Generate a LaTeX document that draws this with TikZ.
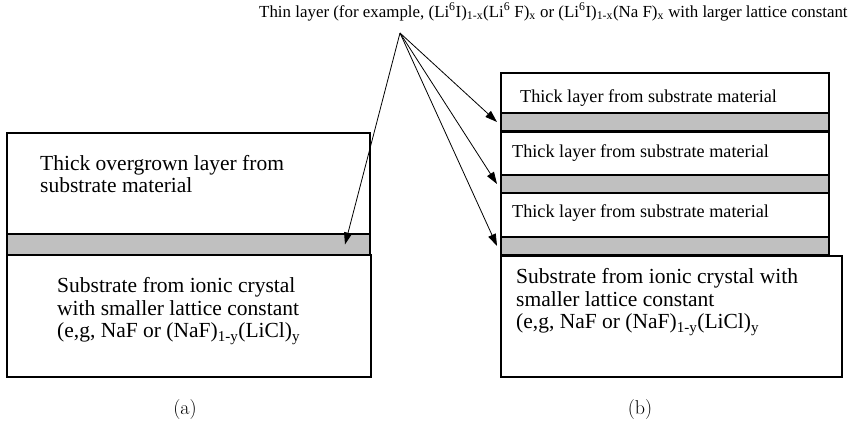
\documentclass[tikz,border=0pt]{standalone}
\usepackage{fontspec}
\newfontfamily\timesfont{Liberation Serif}
\usetikzlibrary{positioning,arrows.meta}
\definecolor{bandgray}{RGB}{192,192,192}

\begin{document}
\begin{tikzpicture}[x=1pt,y=-1pt,
  layer/.style={draw,line width=1.2pt,fill=white,inner sep=0pt,outer sep=0pt,anchor=north west},
  band/.style={draw,line width=2pt,fill=bandgray,inner sep=0pt,outer sep=0pt,anchor=north west},
  txt/.style={anchor=west,inner sep=0pt,align=left,font=\timesfont\fontsize{21.5}{22.5}\selectfont},
  thintxt/.style={anchor=west,inner sep=0pt,font=\timesfont\fontsize{18.2}{20}\selectfont},
  arr/.style={line width=0.8pt,-{Triangle[length=12pt,width=8pt]}}]
  \useasboundingbox (0,0) rectangle (857,426);
  \node[anchor=west,inner sep=0pt,font=\timesfont\fontsize{16.9}{20}\selectfont] (title) at (259,12)
    {Thin layer (for example, (Li\textsuperscript{6}I)\textsubscript{1-x}(Li\textsuperscript{6} F)\textsubscript{x}
     or (Li\textsuperscript{6}I)\textsubscript{1-x}(Na F)\textsubscript{x} with larger lattice constant};
  \coordinate (src) at (400,33);
  % (a)
  \node[layer,minimum width=363pt,minimum height=101pt] (topA) at (7,133) {};
  \node[band,minimum width=363pt,minimum height=21pt] (bandA) at (7,234) {};
  \node[layer,minimum width=364pt,minimum height=122pt] (subA) at (7,255) {};
  \node[txt] (topAtxt) at (40,174) {Thick overgrown layer from\\substrate material};
  \node[txt] (subAtxt) at (57,311) {Substrate from ionic crystal\\with smaller lattice constant\\
    (e,g, NaF or (NaF)\textsubscript{1-y}(LiCl)\textsubscript{y}};
  % (b)
  \foreach \i/\t/\h/\b/\tx/\ty in {1/73/40/113/520/98, 2/132/43/175/512/153, 3/193/44/237/512/213}{
    \node[layer,minimum width=328pt,minimum height=\h pt] (topB\i) at (501,\t) {};
    \node[band,minimum width=328pt,minimum height=18pt] (bandB\i) at (501,\b) {};
    \node[thintxt] (topB\i txt) at (\tx,\ty) {Thick layer from substrate material};
  }
  \node[layer,minimum width=341pt,minimum height=121pt] (subB) at (501,256) {};
  \node[txt] (subBtxt) at (516,302) {Substrate from ionic crystal with\\smaller lattice constant\\
    (e,g, NaF or (NaF)\textsubscript{1-y}(LiCl)\textsubscript{y}};
  \draw[arr] (src) -- ([xshift=-25pt]bandA.east);
  \foreach \i in {1,2,3}
    \draw[arr] (src) -- ([xshift=-4pt]bandB\i.west);
  \node[font=\fontsize{20}{24}\selectfont] (capA) at (185,410) {(a)};
  \node[font=\fontsize{20}{24}\selectfont] (capB) at (640,410) {(b)};
\end{tikzpicture}
\end{document}
